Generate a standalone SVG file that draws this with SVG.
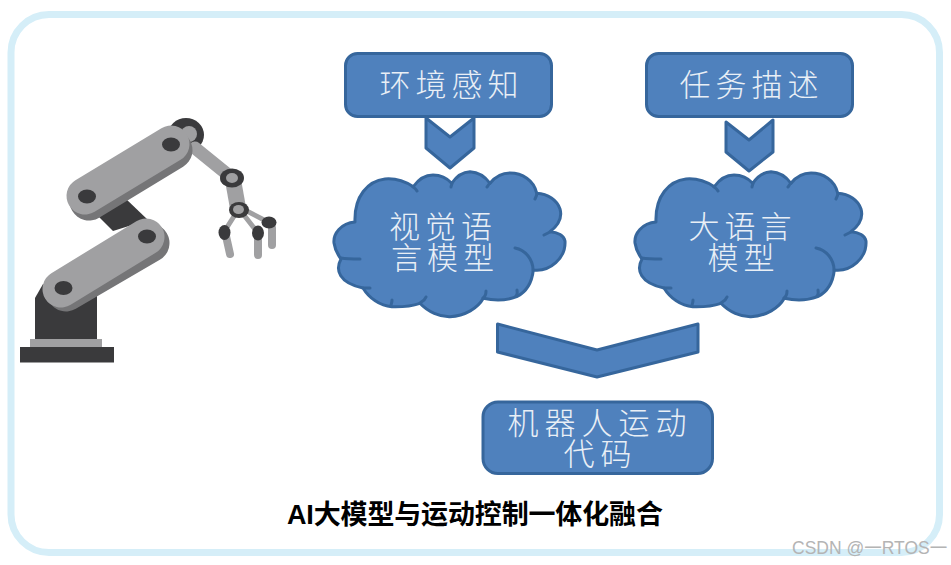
<svg xmlns="http://www.w3.org/2000/svg" width="951" height="565" viewBox="0 0 951 565">
<style>
.shape{fill:#4f81bd;stroke:#36669c;stroke-width:3;stroke-linejoin:round}
.inner{fill:none;stroke:#36669c;stroke-width:3;stroke-linecap:round}
.lbl{font-family:"Noto Sans CJK SC","Noto Sans",sans-serif;font-weight:300;fill:#e9eff6;font-size:31px;text-anchor:middle}
.dark{fill:#3a3a3c}.mid{fill:#757577}.light{fill:#a0a0a2}
.lim{stroke:#a0a0a2;stroke-linecap:round;fill:none}
</style>
<defs>
<g id="cloud">
<path class="shape" d="M355 222C341 223 333 234 334 243C335 250 338 255 341 259C335 270 339 283 363 288C369 298 380 306 391.700 306.700C401 307 412 306 420 303.300C428 312 440 317 450 316.700C465 316 478 308 483.300 298.300C495 301 508 300 516.700 296.700C526 292 532 282 533.300 270C550 272 566 258 565 241C564 236 558 232 550 231.700C560 224 562 216 560 209C557 200 548 194 536.700 193.300C534 180 522 173 510 173C502 173 495 177 490 183.300C484 175 476 172 470 171.700C462 172 456 177 451.700 183.300C446 177 440 175 433 175C425 175 418 180 413.300 186.700C406 182 396 178 385 179C368 181 354 196 355 222Z"/>
<path class="inner" d="M341 258C347 259 353 259 360 259M363 288C366 288 368 288 370 288M391 306C391 304 392 303 392 300M420 303C423 301 425 300 426 297M483 298C486 296 486 294 486 291M516 296C518 294 517 292 517 290M533 270C533 260 526 250 515 248M550 232C548 233 546 234 544 235M537 193C537 195 536 197 535 199M490 183C488 185 488 186 487 187M452 183C452 185 451 186 451 187M413 187C415 188 416 189 417 191"/>
</g>
</defs>
<rect width="951" height="565" fill="#ffffff"/>
<rect x="11" y="14.500" width="928.500" height="538" rx="38" fill="#ffffff" stroke="#d5eef8" stroke-width="7"/>

<g id="robot">
<rect class="dark" x="20" y="347" width="94" height="15.500"/>
<rect class="light" x="30" y="339" width="72" height="8"/>
<path class="dark" d="M35 339V298L43 284L97 290V339Z"/>
<path class="dark" d="M95 213L125 198L148 220L113 231Z"/>
<ellipse class="dark" cx="186" cy="135" rx="18" ry="17"/>
<path class="lim" stroke-width="13" d="M195 148L232 178"/>
<path class="lim" stroke-width="16" d="M233 180L238 208"/>
<path class="lim" stroke-width="5" d="M238 210L224 232M240 210L258 233M241 208L268 222"/>
<path class="lim" stroke-width="8" d="M226 236L230 254M258 236V255M272 228V245"/>
<ellipse class="dark" cx="232" cy="178" rx="12" ry="9.500"/>
<ellipse class="light" cx="232" cy="178" rx="6" ry="5"/>
<ellipse class="dark" cx="239" cy="210" rx="10" ry="8"/>
<ellipse class="light" cx="238.500" cy="209.500" rx="5.500" ry="4.500"/>
<ellipse class="dark" cx="224.500" cy="232.500" rx="6" ry="7.500"/>
<ellipse class="dark" cx="258" cy="233" rx="6" ry="7.500"/>
<ellipse class="dark" cx="269" cy="222.500" rx="7.500" ry="6"/>
<circle class="light" cx="189" cy="134" r="8"/>
<path d="M66 292L150 243" stroke="#757577" stroke-width="39" stroke-linecap="round"/>
<path d="M61 289L146 237" stroke="#a0a0a2" stroke-width="37" stroke-linecap="round"/>
<path d="M89 201L173 150" stroke="#757577" stroke-width="39" stroke-linecap="round"/>
<path d="M85 196L171 144" stroke="#a0a0a2" stroke-width="37" stroke-linecap="round"/>
<ellipse class="dark" cx="63.500" cy="288" rx="9" ry="7"/>
<ellipse class="dark" cx="147" cy="236.500" rx="9" ry="7"/>
<ellipse class="dark" cx="87" cy="196.500" rx="9" ry="7"/>
<ellipse class="dark" cx="171" cy="144.500" rx="9" ry="7"/>
</g>

<g id="connectors">
<path class="shape" d="M426 118L450 137L474 118V148L450 168L426 148Z"/>
<path class="shape" d="M726 122L749 140L773 120V152L749 171L726 152Z"/>
<path class="shape" d="M497.500 324L597 350L698 324V352L597 377L497.500 352Z"/>
</g>

<g id="env">
<rect class="shape" x="345.500" y="53.500" width="206" height="63" rx="12"/>
<text class="lbl" x="451.500" y="96" letter-spacing="5">环境感知</text>
</g>
<g id="task">
<rect class="shape" x="646.500" y="53.500" width="206" height="63" rx="12"/>
<text class="lbl" x="751.500" y="96" letter-spacing="5">任务描述</text>
</g>
<g id="vision-model">
<use href="#cloud"/>
<text class="lbl" letter-spacing="5"><tspan x="443" y="238">视觉语</tspan><tspan x="445" y="269">言模型</tspan></text>
</g>
<g id="llm">
<use href="#cloud" x="301"/>
<text class="lbl" letter-spacing="5"><tspan x="742.500" y="238">大语言</tspan><tspan x="743.500" y="269">模型</tspan></text>
</g>
<g id="code">
<rect class="shape" x="483" y="402" width="229.500" height="71.500" rx="15"/>
<text class="lbl" letter-spacing="6"><tspan x="600" y="434">机器人运动</tspan><tspan x="600.500" y="465">代码</tspan></text>
</g>
<text x="287" y="524" font-family="'Liberation Sans','Noto Sans CJK SC',sans-serif" font-weight="700" font-size="27" letter-spacing="-0.150" fill="#000000">AI大模型与运动控制一体化融合</text>
<text x="792" y="554" font-family="'Liberation Sans','Noto Sans CJK SC',sans-serif" font-size="17.500" fill="#b4b4b4">CSDN @一RTOS一</text>
</svg>
